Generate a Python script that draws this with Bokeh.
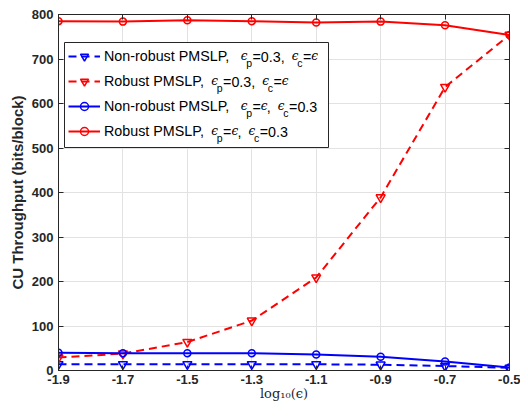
from bokeh.plotting import figure
from bokeh.models import (Range1d, FixedTicker, LinearAxis, Legend, LegendItem,
                          Label, BoxAnnotation)
from bokeh.embed import file_html
from bokeh.resources import INLINE

# ---------------- data ----------------
x_vals = [-1.9, -1.7, -1.5, -1.3, -1.1, -0.9, -0.7, -0.5]
x_tick_labels = ["-1.9", "-1.7", "-1.5", "-1.3", "-1.1", "-0.9", "-0.7", "-0.5"]
y_ticks = [0, 100, 200, 300, 400, 500, 600, 700, 800]

nonrobust_p03 = [14, 14, 14, 14, 14, 13, 10, 6]        # blue dashed, triangles
robust_p03 = [29, 38, 64, 112, 209, 389, 637, 754]     # red dashed, triangles
nonrobust_c03 = [40, 39, 39, 39, 36, 31, 20, 7]        # blue solid, circles
robust_c03 = [785, 784, 787, 785, 782, 784, 776, 754]  # red solid, circles

legend_names = ["Non-robust PMSLP,", "Robust PMSLP,", "Non-robust PMSLP,", "Robust PMSLP,"]
math_a = [("ϵ", "e"), ("p", "s"), ("=0.3,", "t"), (" ", "g"), ("ϵ", "e"), ("c", "s"), ("=", "t"), ("ϵ", "e")]
math_b = [("ϵ", "e"), ("p", "s"), ("=", "t"), ("ϵ", "e"), (",", "t"), (" ", "g"), ("ϵ", "e"), ("c", "s"), ("=0.3", "t")]
legend_math = [math_a, math_a, math_b, math_b]

x_label_text = "log₁₀(ϵ)"
y_label_text = "CU Throughput (bits/block)"

# ---------------- figure ----------------
AX = "#262626"
FRAME_BOTTOM = 370   # expected frame bottom (px from top of figure)
FRAME_LEFT = 58

p = figure(width=520, height=403, output_backend="svg", toolbar_location=None,
           x_range=Range1d(-1.9, -0.5), y_range=Range1d(0, 800),
           min_border_left=FRAME_LEFT, min_border_right=11, min_border_top=14,
           min_border_bottom=30,
           background_fill_color="white", border_fill_color="white")
p.outline_line_color = AX
p.outline_line_width = 1

xt = FixedTicker(ticks=x_vals)
yt = FixedTicker(ticks=y_ticks)
p.xaxis.ticker = xt
p.yaxis.ticker = yt
p.xaxis.major_label_overrides = {v: s for v, s in zip(x_vals, x_tick_labels)}
p.yaxis.major_label_overrides = {v: str(v) for v in y_ticks}
p.xgrid.ticker = xt
p.ygrid.ticker = yt
for g in (p.xgrid, p.ygrid):
    g.grid_line_color = "#e2e2e2"
    g.grid_line_width = 1

for ax in (p.xaxis, p.yaxis):
    ax.major_tick_in = 5
    ax.major_tick_out = 0
    ax.minor_tick_line_color = None
    ax.axis_line_color = AX
    ax.major_tick_line_color = AX
    ax.major_label_text_font = "Liberation Sans"
    ax.major_label_text_font_style = "bold"
    ax.major_label_text_font_size = "13px"
    ax.major_label_text_color = AX
p.xaxis.major_label_standoff = 4
p.yaxis.major_label_standoff = 5

p.xaxis.axis_label = x_label_text
p.xaxis.axis_label_text_font = "DejaVu Serif"
p.xaxis.axis_label_text_font_style = "normal"
p.xaxis.axis_label_text_font_size = "13px"
p.xaxis.axis_label_text_color = AX
p.xaxis.axis_label_standoff = -1

p.yaxis.axis_label = y_label_text
p.yaxis.axis_label_text_font = "Liberation Sans"
p.yaxis.axis_label_text_font_style = "bold"
p.yaxis.axis_label_text_font_size = "15px"
p.yaxis.axis_label_text_color = AX
p.yaxis.axis_label_standoff = 3

# mirrored tick-only axes (box on); their labels are not drawn
top_ax = LinearAxis(ticker=xt, major_label_text_font_size="1px", major_label_standoff=0,
                    major_label_text_color=None,
                    major_tick_in=5, major_tick_out=0, minor_tick_line_color=None,
                    axis_line_color=AX, major_tick_line_color=AX)
right_ax = LinearAxis(ticker=yt, major_label_text_font_size="1px", major_label_standoff=0,
                      major_label_text_color=None,
                      major_tick_in=5, major_tick_out=0, minor_tick_line_color=None,
                      axis_line_color=AX, major_tick_line_color=AX)
p.add_layout(top_ax, "above")
p.add_layout(right_ax, "right")

BLUE = "#0000ff"
RED = "#ff0000"
DASH = "8 5"

series = [
    (nonrobust_p03, BLUE, DASH, "inverted_triangle", 9),
    (robust_p03, RED, DASH, "inverted_triangle", 9),
    (nonrobust_c03, BLUE, "solid", "circle", 7),
    (robust_c03, RED, "solid", "circle", 7),
]
items = []
for (vals, col, dash, mk, sz), name in zip(series, legend_names):
    ln = p.line(x_vals, vals, line_color=col, line_width=2, line_dash=dash)
    sc = p.scatter(x_vals, vals, marker=mk, size=sz, line_color=col, line_width=1.5,
                   fill_alpha=0)
    items.append(LegendItem(label=name, renderers=[ln, sc]))

# ---------------- legend ----------------
LEG_LEFT, LEG_RIGHT, LEG_TOP, LEG_BOTTOM = 64, 328, 42, 147   # page px
PAD, ROW_H, SPACING = 4, 20, 5

def sy(page_y):
    return FRAME_BOTTOM - page_y

def sx(page_x):
    return page_x - FRAME_LEFT

box = BoxAnnotation(left=sx(LEG_LEFT), right=sx(LEG_RIGHT), bottom=sy(LEG_BOTTOM), top=sy(LEG_TOP),
                    left_units="screen", right_units="screen",
                    bottom_units="screen", top_units="screen",
                    fill_color="white", fill_alpha=1, line_color=AX, line_width=1,
                    line_alpha=1)
p.add_layout(box)

leg_h = 2 * PAD + 4 * ROW_H + 3 * SPACING
legend = Legend(items=items, location=(sx(LEG_LEFT), sy(LEG_TOP + leg_h)), padding=PAD,
                spacing=SPACING, margin=0,
                label_height=ROW_H, glyph_height=ROW_H, glyph_width=32, label_standoff=4,
                label_text_font="Liberation Sans", label_text_font_size="14.3px",
                label_text_color="black",
                border_line_alpha=0, background_fill_alpha=0)
p.add_layout(legend)

# Arial-metric widths (em) for the characters used
W = {'N': .722, 'o': .556, 'n': .556, '-': .333, 'r': .333, 'b': .556, 'u': .556, 's': .5,
     't': .278, ' ': .278, 'P': .667, 'M': .833, 'S': .667, 'L': .556, ',': .278,
     'R': .722, '=': .584, '0': .556, '.': .278, '3': .556, 'p': .556, 'c': .5}

def tw(s, size):
    return sum(W.get(ch, .55) for ch in s) * size

text_x0 = sx(LEG_LEFT) + PAD + 32 + 4
for i, (name, segs) in enumerate(zip(legend_names, legend_math)):
    yc = sy(LEG_TOP + PAD + ROW_H / 2 + (ROW_H + SPACING) * i)
    gap = 9 if name.startswith("Non") else 5
    cx = text_x0 + tw(name, 14.3) + gap
    for txt, kind in segs:
        if kind == "g":
            cx += 7
        elif kind == "e":
            p.add_layout(Label(x=cx, y=yc + 1, x_units="screen", y_units="screen", text=txt,
                               text_font="DejaVu Serif", text_font_style="italic",
                               text_font_size="12px", text_baseline="middle",
                               text_align="left", text_color="black"))
            cx += 6
        elif kind == "s":
            p.add_layout(Label(x=cx - 0.5, y=yc - 6, x_units="screen", y_units="screen", text=txt,
                               text_font="Liberation Sans", text_font_size="10.5px",
                               text_baseline="middle", text_align="left", text_color="black"))
            cx += tw(txt, 10.5)
        else:
            p.add_layout(Label(x=cx, y=yc, x_units="screen", y_units="screen", text=txt,
                               text_font="Liberation Sans", text_font_size="14.3px",
                               text_baseline="middle", text_align="left", text_color="black"))
            cx += tw(txt, 14.3)

open("out.html", "w").write(file_html(p, INLINE))
